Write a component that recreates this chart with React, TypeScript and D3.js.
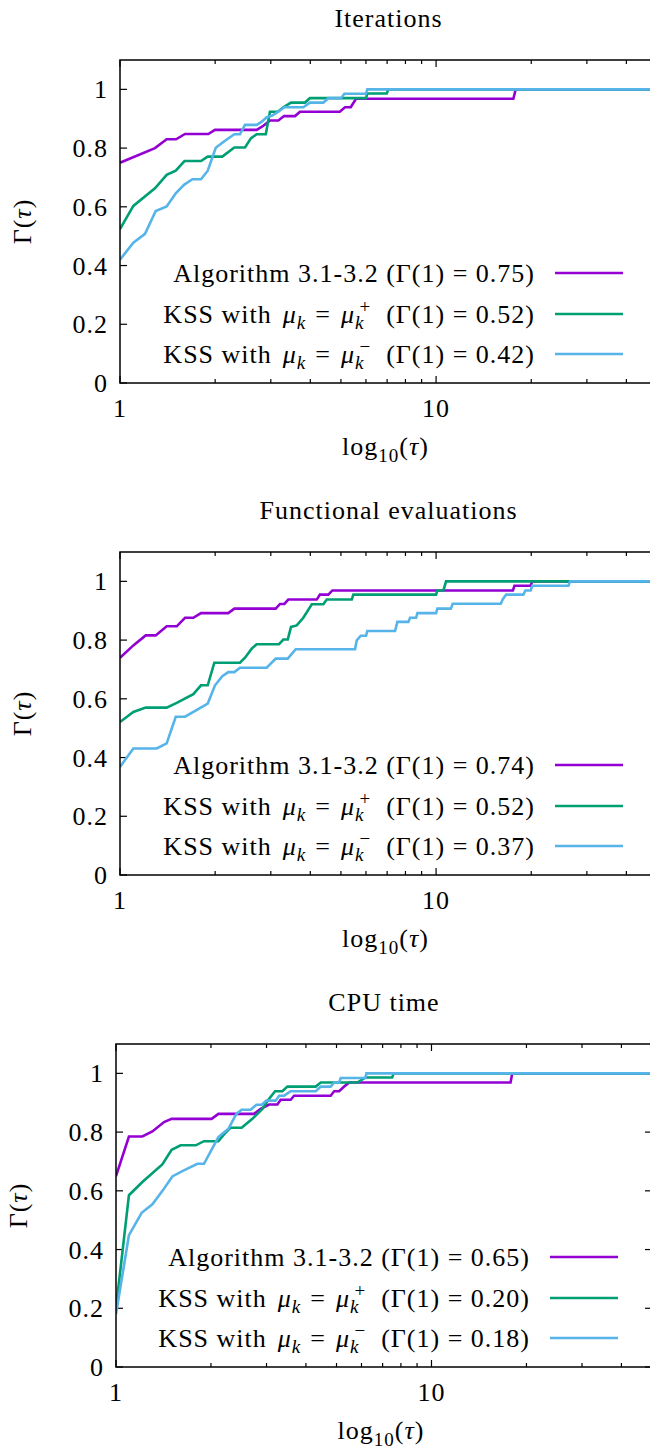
import React from 'react';
import * as d3 from 'd3';

type P = [number, number];

// ---- Data: performance profiles (tau, Gamma(tau)) ----
const iterAlg: P[] = [[1,0.75],[1.29,0.80],[1.405,0.83],[1.504,0.83],[1.606,0.848],[1.903,0.848],[1.998,0.862],[2.707,0.862],[2.842,0.876],[2.981,0.894],[3.169,0.894],[3.304,0.909],[3.579,0.909],[3.709,0.924],[4.96,0.924],[5.152,0.939],[5.37,0.939],[5.58,0.968],[17.56,0.968],[17.86,1.0],[50,1.0]];
const iterPlus: P[] = [[1,0.524],[1.102,0.603],[1.29,0.663],[1.405,0.709],[1.501,0.723],[1.60,0.756],[1.804,0.756],[1.895,0.771],[2.107,0.771],[2.30,0.802],[2.486,0.802],[2.598,0.834],[2.707,0.847],[2.892,0.847],[2.981,0.924],[3.155,0.924],[3.287,0.939],[3.476,0.955],[3.849,0.955],[3.989,0.970],[6.004,0.970],[6.061,0.986],[6.982,0.986],[7.063,1.0],[50,1.0]];
const iterMinus: P[] = [[1,0.42],[1.102,0.478],[1.2,0.508],[1.297,0.586],[1.405,0.601],[1.501,0.646],[1.594,0.675],[1.694,0.694],[1.804,0.694],[1.895,0.723],[2.009,0.801],[2.149,0.825],[2.30,0.847],[2.396,0.847],[2.486,0.879],[2.707,0.879],[2.808,0.890],[2.912,0.905],[3.02,0.910],[3.169,0.924],[3.311,0.939],[3.802,0.939],[3.989,0.955],[4.399,0.955],[4.562,0.970],[5.005,0.970],[5.128,0.985],[6.004,0.985],[6.061,1.0],[50,1.0]];

const funAlg: P[] = [[1,0.74],[1.102,0.782],[1.206,0.816],[1.297,0.816],[1.405,0.847],[1.512,0.847],[1.606,0.876],[1.706,0.876],[1.804,0.892],[2.201,0.892],[2.30,0.907],[3.109,0.907],[3.208,0.923],[3.311,0.923],[3.408,0.938],[4.194,0.938],[4.29,0.955],[4.562,0.955],[4.697,0.969],[17.5,0.969],[17.7,0.985],[19.9,0.985],[20.16,1.0],[50,1.0]];
const funPlus: P[] = [[1,0.521],[1.102,0.555],[1.206,0.570],[1.405,0.570],[1.512,0.586],[1.706,0.616],[1.804,0.646],[1.895,0.646],[1.988,0.723],[2.396,0.723],[2.486,0.740],[2.611,0.771],[2.707,0.786],[3.185,0.786],[3.287,0.802],[3.394,0.802],[3.476,0.845],[3.624,0.850],[3.802,0.876],[4.044,0.922],[4.399,0.922],[4.509,0.938],[5.411,0.938],[5.474,0.955],[10,0.955],[10.095,0.969],[10.55,0.969],[10.755,1.0],[50,1.0]];
const funMinus: P[] = [[1,0.368],[1.102,0.431],[1.307,0.431],[1.405,0.448],[1.501,0.539],[1.606,0.539],[1.895,0.584],[1.998,0.646],[2.107,0.677],[2.201,0.691],[2.30,0.691],[2.396,0.706],[2.912,0.706],[3.109,0.737],[3.394,0.737],[3.597,0.769],[5.542,0.769],[5.61,0.799],[5.777,0.815],[6.004,0.815],[6.061,0.831],[7.418,0.831],[7.543,0.862],[8.174,0.862],[8.276,0.876],[8.646,0.876],[8.728,0.892],[10,0.892],[10.095,0.907],[11.13,0.907],[11.29,0.924],[16.02,0.924],[16.26,0.939],[16.66,0.955],[18.89,0.955],[19.17,0.969],[19.91,0.969],[20.16,0.985],[26.22,0.985],[26.55,1.0],[50,1.0]];

const cpuAlg: P[] = [[1,0.65],[1.099,0.785],[1.212,0.785],[1.304,0.802],[1.420,0.834],[1.501,0.845],[2.010,0.845],[2.111,0.862],[2.740,0.862],[2.875,0.879],[3.057,0.894],[3.247,0.894],[3.327,0.910],[3.579,0.910],[3.668,0.924],[4.792,0.924],[4.914,0.939],[5.097,0.939],[5.287,0.955],[5.483,0.969],[17.81,0.969],[18.03,1.0],[50,1.0]];
const cpuPlus: P[] = [[1,0.20],[1.099,0.585],[1.212,0.630],[1.402,0.690],[1.501,0.740],[1.603,0.755],[1.789,0.755],[1.901,0.769],[2.111,0.769],[2.200,0.792],[2.309,0.815],[2.502,0.815],[2.706,0.845],[2.911,0.879],[3.041,0.910],[3.193,0.939],[3.369,0.939],[3.494,0.955],[4.296,0.955],[4.456,0.969],[5.837,0.969],[6.175,0.986],[7.506,0.986],[7.594,1.0],[50,1.0]];
const cpuMinus: P[] = [[1,0.18],[1.099,0.449],[1.206,0.525],[1.304,0.554],[1.402,0.599],[1.509,0.649],[1.623,0.667],[1.811,0.692],[1.901,0.692],[2.111,0.783],[2.271,0.811],[2.407,0.862],[2.502,0.876],[2.673,0.876],[2.786,0.893],[2.896,0.893],[2.998,0.907],[3.207,0.907],[3.289,0.924],[3.411,0.924],[3.579,0.939],[4.296,0.939],[4.456,0.955],[4.792,0.955],[4.914,0.969],[5.097,0.969],[5.157,0.984],[6.175,0.984],[6.221,1.0],[50,1.0]];

const titles = ['Iterations', 'Functional evaluations', 'CPU time'];
const gammaAtOne = [
  ['0.75', '0.52', '0.42'],
  ['0.74', '0.52', '0.37'],
  ['0.65', '0.20', '0.18'],
];
const yTicks = [0, 0.2, 0.4, 0.6, 0.8, 1];
const yTickLabels = ['0', '0.2', '0.4', '0.6', '0.8', '1'];
const xMajor = [1, 10];
const xMajorLabels = ['1', '10'];
const xMinor = [2, 3, 4, 5, 6, 7, 8, 9, 20, 30, 40];
const colors = ['#9400d3', '#009e73', '#56b4e9'];

const panelSeries: P[][][] = [
  [iterAlg, iterPlus, iterMinus],
  [funAlg, funPlus, funMinus],
  [cpuAlg, cpuPlus, cpuMinus],
];

// ---- Layout ----
const frames = [
  { top: 60, bottom: 383, left: 120, right: 657 },
  { top: 552, bottom: 875, left: 120, right: 657 },
  { top: 1044, bottom: 1367, left: 116, right: 652 },
];
const FONT = '"Liberation Serif", "DejaVu Serif", "Times New Roman", serif';
const FS = 26;
const SUB = 19;
const textStyle: React.CSSProperties = { fontFamily: FONT, letterSpacing: '1px' };

function LegendLabel({ kind, g, x, y }: { kind: number; g: string; x: number; y: number }) {
  const tail = `(Γ(1) = ${g})`;
  if (kind === 0) {
    return (
      <text x={x} y={y} textAnchor="end" style={textStyle} fontSize={FS}>
        {'Algorithm 3.1-3.2 ' + tail}
      </text>
    );
  }
  const sign = kind === 1 ? '+' : '−';
  return (
    <text x={x} y={y} textAnchor="end" style={textStyle} fontSize={FS}>
      <tspan>KSS with</tspan>
      <tspan fontStyle="italic" dx={11}>μ</tspan>
      <tspan fontStyle="italic" fontSize={SUB} dy={6}>k</tspan>
      <tspan dx={9} dy={-6}>=</tspan>
      <tspan fontStyle="italic" dx={10}>μ</tspan>
      <tspan fontStyle="italic" fontSize={SUB} dy={6}>k</tspan>
      <tspan fontSize={SUB} dx={-5} dy={-16}>{sign}</tspan>
      <tspan dx={15} dy={10}>{tail}</tspan>
    </text>
  );
}

function Panel({ idx }: { idx: number }) {
  const f = frames[idx];
  const x = d3.scaleLog().domain([1, 50]).range([f.left, f.right]);
  const y = d3.scaleLinear().domain([0, 1.1]).range([f.bottom, f.top]);
  const line = d3.line<P>().x((d) => x(d[0])).y((d) => y(d[1]));
  const cx = (f.left + f.right) / 2;
  const cy = (f.top + f.bottom) / 2;
  const major = 7;
  const minor = 4;
  const clipId = `clip-${idx}`;
  const legendRows = [213, 254, 294];
  return (
    <g>
      <defs>
        <clipPath id={clipId}>
          <rect x={f.left} y={f.top} width={f.right - f.left} height={f.bottom - f.top} />
        </clipPath>
      </defs>
      <text x={cx} y={f.top - 33} textAnchor="middle" style={textStyle} fontSize={FS}>
        {titles[idx]}
      </text>
      {yTicks.map((t, i) => (
        <g key={'y' + i}>
          <line x1={f.left} x2={f.left + major} y1={y(t)} y2={y(t)} stroke="#000" strokeWidth={1.2} />
          <line x1={f.right} x2={f.right - major} y1={y(t)} y2={y(t)} stroke="#000" strokeWidth={1.2} />
          <text x={f.left - 12} y={y(t) + 9} textAnchor="end" style={textStyle} fontSize={FS}>
            {yTickLabels[i]}
          </text>
        </g>
      ))}
      {xMajor.map((t, i) => (
        <g key={'xM' + i}>
          <line x1={x(t)} x2={x(t)} y1={f.bottom} y2={f.bottom - major} stroke="#000" strokeWidth={1.2} />
          <line x1={x(t)} x2={x(t)} y1={f.top} y2={f.top + major} stroke="#000" strokeWidth={1.2} />
          <text x={x(t)} y={f.bottom + 34} textAnchor="middle" style={textStyle} fontSize={FS}>
            {xMajorLabels[i]}
          </text>
        </g>
      ))}
      {xMinor.map((t, i) => (
        <g key={'xm' + i}>
          <line x1={x(t)} x2={x(t)} y1={f.bottom} y2={f.bottom - minor} stroke="#000" strokeWidth={1.2} />
          <line x1={x(t)} x2={x(t)} y1={f.top} y2={f.top + minor} stroke="#000" strokeWidth={1.2} />
        </g>
      ))}
      <g clipPath={`url(#${clipId})`}>
        {panelSeries[idx].map((s, i) => (
          <path key={'s' + i} d={line(s) || ''} fill="none" stroke={colors[i]} strokeWidth={2.6} strokeLinejoin="miter" />
        ))}
      </g>
      {legendRows.map((ry, i) => (
        <g key={'lg' + i}>
          <LegendLabel kind={i} g={gammaAtOne[idx][i]} x={f.right - 122} y={f.top + ry + 9} />
          <line x1={f.right - 102} x2={f.right - 34} y1={f.top + ry} y2={f.top + ry} stroke={colors[i]} strokeWidth={2.6} />
        </g>
      ))}
      <rect x={f.left} y={f.top} width={f.right - f.left} height={f.bottom - f.top} fill="none" stroke="#000" strokeWidth={1.5} />
      <text transform={`translate(${f.left - 89},${cy}) rotate(-90)`} textAnchor="middle" style={textStyle} fontSize={FS}>
        <tspan>Γ(</tspan>
        <tspan fontStyle="italic">τ</tspan>
        <tspan>)</tspan>
      </text>
      <text x={cx - 3} y={f.bottom + 72} textAnchor="middle" style={textStyle} fontSize={FS}>
        <tspan>log</tspan>
        <tspan fontSize={SUB} dy={7}>10</tspan>
        <tspan dy={-7}>(</tspan>
        <tspan fontStyle="italic">τ</tspan>
        <tspan>)</tspan>
      </text>
    </g>
  );
}

export default function App() {
  return (
    <svg
      width={650}
      height={1450}
      style={{ position: 'absolute', left: 0, top: 0, background: '#fff' }}
    >
      <rect x={0} y={0} width={650} height={1450} fill="#fff" />
      {[0, 1, 2].map((i) => (
        <Panel key={i} idx={i} />
      ))}
    </svg>
  );
}
